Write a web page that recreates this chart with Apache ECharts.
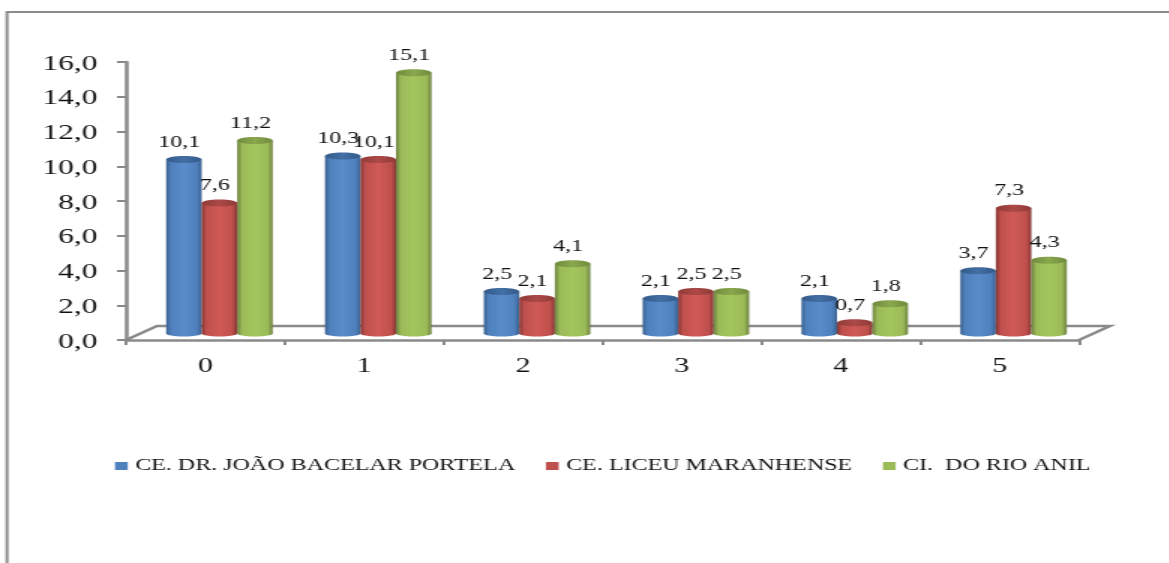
<!DOCTYPE html>
<html>
<head>
<meta charset="utf-8">
<style>
  html, body { margin: 0; padding: 0; background: #fff; overflow: hidden; }
  #chart { width: 779.33px; height: 563px; transform: scaleX(1.5); transform-origin: left top; }
</style>
<script src="https://cdn.jsdelivr.net/npm/echarts@6/dist/echarts.min.js"></script>
</head>
<body>
<div id="chart"></div>
<script>
const categories = ['0', '1', '2', '3', '4', '5'];
const portela = [10.1, 10.3, 2.5, 2.1, 2.1, 3.7];
const liceu = [7.6, 10.1, 2.1, 2.5, 0.7, 7.3];
const rioAnil = [11.2, 15.1, 4.1, 2.5, 1.8, 4.3];
const seriesNames = ['CE. DR. JOÃO BACELAR PORTELA', 'CE. LICEU MARANHENSE', 'CI.  DO RIO ANIL'];
const yTicks = { min: 0, max: 16, interval: 2 };

const HSCALE = 1.5;
const BAR_W = 35.5 / HSCALE;
const DEPTH_X = 14 / HSCALE;
const DEPTH_Y = -5;
const CAP_RY = 3.5;
const FOOT_RY = 3;
const AXIS_GREY = '#8a8a8a';
const serif = '"Liberation Serif", serif';

const palettes = [
  { base: '#4f81bd', edge: '#3a6190', mid: '#5a8ccb', capDark: '#345a88', capLight: '#4470a6' },
  { base: '#c0504d', edge: '#843735', mid: '#cf5a56', capDark: '#8e3b39', capLight: '#ad4a47' },
  { base: '#9bbb59', edge: '#6c8040', mid: '#a3c65c', capDark: '#6f8a3c', capLight: '#8aa84e' }
];

const label = v => v.toFixed(1).replace('.', ',');

// One cylinder: body with a horizontal shading, rounded foot and a darker top cap.
function cylinder(index) {
  const p = palettes[index];
  const shade = new echarts.graphic.LinearGradient(0, 0, 1, 0, [
    { offset: 0, color: p.edge },
    { offset: 0.14, color: p.base },
    { offset: 0.5, color: p.mid },
    { offset: 0.86, color: p.base },
    { offset: 1, color: p.edge }
  ]);
  const capShade = new echarts.graphic.LinearGradient(0, 0, 1, 0, [
    { offset: 0, color: p.capDark },
    { offset: 0.5, color: p.capLight },
    { offset: 1, color: p.capDark }
  ]);
  return function (params, api) {
    const cat = api.value(0);
    const val = api.value(1);
    const top = api.coord([cat, val]);
    const foot = api.coord([cat, 0]);
    const cx = top[0] + DEPTH_X + (index - 1) * BAR_W;
    const yTop = top[1] + DEPTH_Y;
    const yFoot = foot[1] + DEPTH_Y - 1.5;
    const rx = BAR_W / 2;
    return {
      type: 'group',
      children: [
        { type: 'ellipse', shape: { cx, cy: yFoot, rx, ry: FOOT_RY }, style: { fill: shade } },
        { type: 'rect', shape: { x: cx - rx, y: yTop, width: BAR_W, height: yFoot - yTop }, style: { fill: shade } },
        { type: 'ellipse', shape: { cx, cy: yTop, rx, ry: CAP_RY }, style: { fill: capShade } },
        {
          type: 'text', z2: 50,
          style: {
            x: cx - 3, y: yTop - 17, text: label(val), align: 'center', verticalAlign: 'middle',
            font: '16px ' + serif, fill: '#111'
          }
        }
      ]
    };
  };
}

// Floor of the plot: the back edge and the two receding side edges.
function floor(params) {
  const s = params.coordSys;
  const x0 = s.x, x1 = s.x + s.width, y = s.y + s.height;
  const dx = 31 / HSCALE, dy = -14;
  return {
    type: 'polyline',
    shape: { points: [[x0, y], [x0 + dx, y + dy], [x1 + dx, y + dy], [x1, y]] },
    style: { stroke: AXIS_GREY, lineWidth: 2.5, fill: null }
  };
}

function barSeries(i, values) {
  return {
    name: seriesNames[i], type: 'custom', z: 3 + i,
    coordinateSystem: 'cartesian2d',
    itemStyle: { color: palettes[i].base },
    encode: { x: 0, y: 1 },
    data: values.map((v, k) => [k, v]),
    renderItem: cylinder(i)
  };
}

const chart = echarts.init(document.getElementById('chart'));
chart.setOption({
  animation: false,
  backgroundColor: '#fff',
  graphic: [
    { type: 'line', silent: true, z: 0, shape: { x1: 7 / HSCALE, y1: 11, x2: 7 / HSCALE, y2: 563 }, style: { stroke: '#8c8c8c', lineWidth: 2 } },
    { type: 'line', silent: true, z: 0, shape: { x1: 6 / HSCALE, y1: 12, x2: 1169 / HSCALE, y2: 12 }, style: { stroke: '#8c8c8c', lineWidth: 2 } }
  ],
  grid: { left: 126 / HSCALE, width: 953 / HSCALE, top: 62, height: 278 },
  legend: {
    left: 115 / HSCALE, top: 458, padding: 0, itemWidth: 8.5, itemHeight: 8, itemGap: 20.5,
    icon: 'rect', data: seriesNames,
    textStyle: { fontFamily: serif, fontSize: 16, color: '#111' }
  },
  xAxis: {
    type: 'category', data: categories,
    axisTick: { show: true, length: 5, lineStyle: { color: AXIS_GREY, width: 2 } },
    axisLine: { lineStyle: { color: AXIS_GREY, width: 2.5 } },
    axisLabel: { fontFamily: serif, fontSize: 20, color: '#111', margin: 17 }
  },
  yAxis: {
    type: 'value', min: yTicks.min, max: yTicks.max, interval: yTicks.interval,
    splitLine: { show: false },
    axisLine: { show: true, lineStyle: { color: AXIS_GREY, width: 2.5 } },
    axisTick: { show: true, length: 6, lineStyle: { color: AXIS_GREY, width: 2 } },
    axisLabel: { fontFamily: serif, fontSize: 21, color: '#111', margin: 19, verticalAlign: 'top', lineHeight: 4, formatter: label }
  },
  series: [
    { type: 'custom', z: 1, silent: true, coordinateSystem: 'cartesian2d', data: [[0, 0]], encode: { x: 0, y: 1 }, renderItem: floor },
    barSeries(0, portela),
    barSeries(1, liceu),
    barSeries(2, rioAnil)
  ]
});
</script>
</body>
</html>
